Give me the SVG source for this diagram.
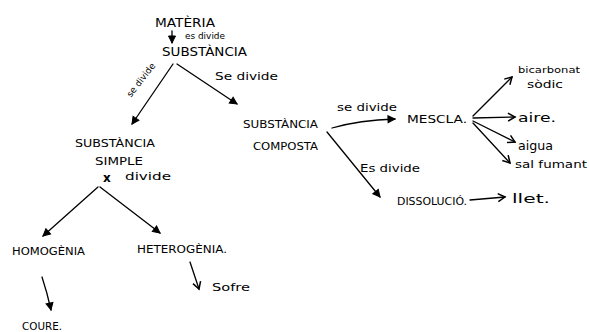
<svg xmlns="http://www.w3.org/2000/svg" width="589" height="332" viewBox="0 0 589 332">
<style>
text{font-family:"DejaVu Sans","Liberation Sans",sans-serif;fill:#000;}
.n{font-size:11px;}
.l{font-size:10px;}
.c{fill:none;stroke:#000;stroke-width:1.3;stroke-linecap:round;}
</style>
<defs>
<marker id="ah" markerWidth="10" markerHeight="10" refX="8" refY="5" orient="auto" markerUnits="userSpaceOnUse">
<path d="M1,1 L8,5 L1,9" fill="none" stroke="#000" stroke-width="1.5"/>
</marker>
<marker id="af" markerWidth="10" markerHeight="10" refX="8" refY="5" orient="auto" markerUnits="userSpaceOnUse">
<path d="M1,1.5 L8,5 L1,8.5 Z" fill="#000" stroke="#000" stroke-width="1"/>
</marker>
</defs>
<rect width="589" height="332" fill="#fff"/>
<g id="connectors">
<line class="c" x1="172" y1="31" x2="172" y2="43" marker-end="url(#af)"/>
<line class="c" x1="173" y1="64" x2="132" y2="124" marker-end="url(#af)"/>
<line class="c" x1="177" y1="64" x2="237" y2="104" marker-end="url(#af)"/>
<line class="c" x1="98" y1="187" x2="43" y2="236" marker-end="url(#af)"/>
<line class="c" x1="100" y1="187" x2="160" y2="233" marker-end="url(#af)"/>
<path class="c" d="M42,277 Q47,292 51,310" marker-end="url(#af)"/>
<path class="c" d="M190,262 L199,289" marker-end="url(#ah)"/>
<path class="c" d="M332,128 Q360,120 395,119" marker-end="url(#af)"/>
<line class="c" x1="327" y1="132" x2="380" y2="197" marker-end="url(#af)"/>
<path class="c" d="M470,200 L505,197" marker-end="url(#ah)"/>
<line class="c" x1="473" y1="116" x2="512" y2="77" marker-end="url(#ah)"/>
<line class="c" x1="473" y1="118" x2="515" y2="117" marker-end="url(#ah)"/>
<line class="c" x1="473" y1="121" x2="515" y2="142" marker-end="url(#ah)"/>
<line class="c" x1="473" y1="123" x2="510" y2="163" marker-end="url(#ah)"/>
<text x="185" y="39" font-size="8" textLength="40" lengthAdjust="spacingAndGlyphs">es divide</text>
<text x="141" y="83" font-size="9" text-anchor="middle" transform="rotate(-52 141 80)">se divide</text>
<text class="n" x="215" y="80" textLength="63" lengthAdjust="spacingAndGlyphs">Se divide</text>
<text x="103" y="182" font-size="12" font-weight="bold">x</text>
<text class="n" x="125" y="180" textLength="46" lengthAdjust="spacingAndGlyphs">divide</text>
<text class="n" x="337" y="111" textLength="60" lengthAdjust="spacingAndGlyphs">se divide</text>
<text class="n" x="360" y="172" textLength="60" lengthAdjust="spacingAndGlyphs">Es divide</text>
</g>
<g id="materia"><text x="155" y="27" font-size="13" textLength="60" lengthAdjust="spacingAndGlyphs">MATÈRIA</text></g>
<g id="substancia"><text x="162" y="56" font-size="13" textLength="85" lengthAdjust="spacingAndGlyphs">SUBSTÀNCIA</text></g>
<g id="substancia-simple">
<text class="n" x="75" y="147" textLength="80" lengthAdjust="spacingAndGlyphs">SUBSTÀNCIA</text>
<text class="n" x="95" y="165" textLength="48" lengthAdjust="spacingAndGlyphs">SIMPLE</text>
</g>
<g id="homogenia"><text class="l" x="12" y="255" textLength="73" lengthAdjust="spacingAndGlyphs">HOMOGÈNIA</text></g>
<g id="heterogenia"><text class="l" x="137" y="253" textLength="90" lengthAdjust="spacingAndGlyphs">HETEROGÈNIA.</text></g>
<g id="coure"><text class="l" x="22" y="330" textLength="40" lengthAdjust="spacingAndGlyphs">COURE.</text></g>
<g id="sofre"><text class="n" x="212" y="291" textLength="38" lengthAdjust="spacingAndGlyphs">Sofre</text></g>
<g id="substancia-composta">
<text class="l" x="243" y="128" textLength="75" lengthAdjust="spacingAndGlyphs">SUBSTÀNCIA</text>
<text class="l" x="253" y="150" textLength="65" lengthAdjust="spacingAndGlyphs">COMPOSTA</text>
</g>
<g id="mescla"><text class="n" x="407" y="123" textLength="60" lengthAdjust="spacingAndGlyphs">MESCLA.</text></g>
<g id="dissolucio"><text class="n" x="397" y="205" textLength="70" lengthAdjust="spacingAndGlyphs">DISSOLUCIÓ.</text></g>
<g id="llet"><text x="512" y="203" font-size="12" textLength="38" lengthAdjust="spacingAndGlyphs">llet.</text></g>
<g id="bicarbonat">
<text x="518" y="73" font-size="9" textLength="62" lengthAdjust="spacingAndGlyphs">bicarbonat</text>
<text x="527" y="88" font-size="10" textLength="36" lengthAdjust="spacingAndGlyphs">sòdic</text>
</g>
<g id="aire"><text x="518" y="122" font-size="12" textLength="38" lengthAdjust="spacingAndGlyphs">aire.</text></g>
<g id="aigua"><text x="518" y="150" font-size="12" textLength="35" lengthAdjust="spacingAndGlyphs">aigua</text></g>
<g id="sal-fumant"><text class="n" x="515" y="168" textLength="72" lengthAdjust="spacingAndGlyphs">sal fumant</text></g>
</svg>
